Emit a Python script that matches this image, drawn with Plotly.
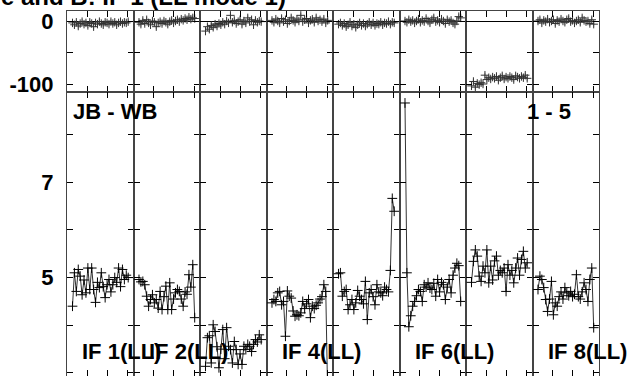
import plotly.graph_objects as go
from plotly.subplots import make_subplots

# ---------------- data ----------------
channels = list(range(1, 31))

if_labels = ["IF 1(LL)", "IF 2(LL)", "IF 4(LL)", "IF 6(LL)", "IF 8(LL)"]
if_label_cols = [1, 2, 4, 6, 8]

amp_if1 = [4.40, 5.10, 4.71, 5.17, 5.03, 4.64, 4.95, 4.68, 5.20, 4.75, 5.20, 4.75, 4.48, 4.90, 4.79,
           5.10, 4.81, 4.58, 4.85, 4.96, 4.70, 4.85, 5.00, 4.90, 5.20, 4.81, 5.17, 4.96, 5.05, 5.00]
amp_if2 = [4.96, 4.91, 4.92, 4.85, 4.61, 4.40, 4.54, 4.64, 4.47, 4.54, 4.36, 4.71, 4.33, 4.60, 4.82,
           4.33, 4.89, 4.33, 4.55, 4.68, 4.75, 4.71, 4.55, 4.40, 4.70, 4.65, 5.06, 4.80, 5.27, 4.16]
amp_if3 = [3.14, 3.74, 3.78, 3.21, 4.01, 3.87, 3.55, 3.11, 3.50, 3.91, 3.30, 3.95, 3.56, 3.49, 3.21,
           3.66, 3.49, 3.18, 3.40, 3.18, 3.56, 3.49, 3.60, 3.56, 3.45, 3.60, 3.70, 3.65, 3.80, 3.70]
amp_if4 = [4.47, 4.54, 4.50, 4.68, 4.71, 4.43, 4.50, 3.77, 4.72, 4.61, 4.57, 4.30, 4.19, 4.22, 4.20,
           4.26, 4.50, 4.35, 4.45, 4.54, 4.16, 4.40, 4.35, 4.42, 4.47, 4.55, 4.60, 4.85, 4.71, 2.50]
amp_if5 = [5.08, 5.10, 4.61, 4.71, 4.75, 4.33, 4.43, 4.54, 4.33, 4.47, 4.73, 4.61, 4.54, 4.45, 4.92,
           4.12, 4.68, 4.75, 4.60, 4.43, 4.85, 4.70, 4.68, 4.62, 4.80, 4.75, 4.70, 5.15, 6.66, 6.39]
amp_if6 = [8.66, 5.10, 3.97, 4.20, 4.40, 4.50, 4.62, 4.75, 4.71, 4.50, 4.85, 4.80, 4.89, 4.78, 4.75,
           4.88, 4.61, 4.96, 4.70, 4.90, 4.85, 4.54, 4.80, 4.96, 4.68, 5.05, 5.20, 5.30, 5.25, 4.50]
amp_if7 = [4.90, 5.34, 5.58, 5.45, 5.03, 4.92, 5.24, 5.10, 5.58, 4.89, 5.24, 4.95, 5.35, 5.45, 5.05,
           5.15, 5.10, 5.20, 4.71, 5.27, 5.05, 5.15, 4.89, 5.20, 5.41, 5.05, 5.38, 5.55, 5.20, 5.31]
amp_if8 = [4.75, 5.03, 4.96, 4.79, 4.54, 4.29, 4.55, 4.92, 4.22, 4.47, 4.40, 4.60, 4.70, 4.55, 4.79,
           4.68, 4.62, 4.71, 4.60, 4.65, 5.06, 4.60, 4.55, 4.70, 4.89, 4.75, 4.50, 4.96, 5.20, 3.95]

ph_if1 = [-3, -6, -2, -8, -4, -1, -5, -3, -7, -2, -4, -9, -3, -5, -1,
          -4, -6, -2, -3, -5, -1, -4, -2, -6, -3, -1, -4, -2, -3, -1]
ph_if2 = [-2, -5, 1, -4, 2, -3, -6, 0, -2, -9, -3, -1, -4, 0, -2,
          -5, -1, 1, -3, 0, 2, -1, 3, 1, 4, 2, 6, 3, 5, 4]
ph_if3 = [-16, -9, -13, -7, -10, -5, -8, -4, -6, -2, -5, 0, -3, 9, -2,
          1, -4, -1, 2, -5, 0, -3, 5, -1, 2, -6, 1, -2, 0, -1]
ph_if4 = [1, -2, 3, 0, -3, 4, -1, 2, -4, 0, 5, 1, -2, 3, 0,
          9, -1, 2, 4, -3, 1, 3, -2, 5, 0, 2, -1, 3, -3, 1]
ph_if5 = [-5, -3, -7, -4, -9, -6, -2, -8, -5, -10, -6, -3, -7, -4, -8,
          -5, -2, -6, -3, -7, -4, -5, -2, -6, -3, -4, -1, -5, -2, -3]
ph_if6 = [0, -2, 2, -1, 1, -3, 0, 3, -2, 1, -1, 4, 0, -3, 2,
          5, -1, 1, -2, 3, 0, -4, 2, -1, 1, -3, -5, 0, 7, 5]
ph_if7 = [-103, -96, -105, -99, -101, -98, -100, -86, -93, -90, -92, -89, -91, -88, -94,
          -90, -87, -92, -89, -91, -88, -90, -93, -87, -89, -91, -88, -90, -86, -91]
ph_if8 = [0, 2, -3, 1, -1, 3, -2, 0, 2, -4, 1, -1, 3, 0, -2,
          2, 4, -1, 1, -3, 0, 2, -2, 5, 1, -1, 0, -4, 2, -5]

amps = [amp_if1, amp_if2, amp_if3, amp_if4, amp_if5, amp_if6, amp_if7, amp_if8]
phases = [ph_if1, ph_if2, ph_if3, ph_if4, ph_if5, ph_if6, ph_if7, ph_if8]

phase_ticks = [-100, -50, 0]
phase_ticktext = ["-100", "", "0"]
amp_ticks = [3, 4, 5, 6, 7, 8]
amp_ticktext = ["3", "", "5", "", "7", ""]
chan_ticks = [8.55, 19.07, 29.74]

title_text = "e and B: IF 1 (LL mode 1)"
baseline_text = "JB - WB"
stokes_text = "1 - 5"

# ---------------- figure ----------------
W, H = 634, 376
ML, MR, MT, MB = 67, 35, 11, 0
plot_h = H - MT - MB
plot_w = W - ML - MR

fig = make_subplots(rows=2, cols=8, horizontal_spacing=0, vertical_spacing=0,
                    row_heights=[81 / plot_h, 1 - 81 / plot_h])

for i in range(8):
    fig.add_trace(go.Scatter(
        x=channels, y=phases[i], mode="markers",
        marker=dict(symbol="cross-thin", size=6, line=dict(width=1, color="#333")),
        error_y=dict(type="constant", value=4, color="#999", thickness=1, width=0),
        showlegend=False, hoverinfo="skip"), row=1, col=i + 1)
    fig.add_trace(go.Scatter(
        x=channels, y=amps[i], mode="lines+markers",
        line=dict(color="#333", width=1),
        marker=dict(symbol="cross-thin", size=7, line=dict(width=1, color="#000")),
        showlegend=False, hoverinfo="skip"), row=2, col=i + 1)

axis_style = dict(showgrid=False, showline=True, linecolor="#444", linewidth=1,
                  mirror="allticks", ticks="inside", ticklen=6, tickwidth=1, tickcolor="#000")

for i in range(8):
    for r in (1, 2):
        fig.update_xaxes(range=[-1.86, 32.76], zeroline=False, tickvals=chan_ticks,
                         showticklabels=False, **axis_style, row=r, col=i + 1)
    fig.update_yaxes(range=[-112.7, 15.9], tickvals=phase_ticks, ticktext=phase_ticktext,
                     showticklabels=(i == 0), zeroline=True, zerolinecolor="#000",
                     zerolinewidth=1, ticklabelstandoff=8, **axis_style, row=1, col=i + 1)
    fig.update_yaxes(range=[2.937, 8.89], tickvals=amp_ticks, ticktext=amp_ticktext,
                     showticklabels=(i == 0), zeroline=False, ticklabelstandoff=8,
                     **axis_style, row=2, col=i + 1)

fig.update_yaxes(tickfont=dict(family="Liberation Sans, Arial", size=22, color="#000", weight="bold"))

big = dict(family="Liberation Sans, Arial", size=22, color="#000", weight="bold")

def px_x(px):
    return (px - ML) / plot_w

def px_y(py):
    return 1 - (py - MT) / plot_h

annotations = [
    dict(text=title_text, x=px_x(-1), y=px_y(-4), xanchor="left", yanchor="middle",
         font=dict(family="Liberation Sans, Arial", size=24, color="#000", weight="bold")),
    dict(text=baseline_text, x=px_x(71), y=px_y(111), xanchor="left", yanchor="middle", font=big),
    dict(text=stokes_text, x=px_x(548.5), y=px_y(111), xanchor="center", yanchor="middle", font=big),
]
panel_w = plot_w / 8
for lab, col in zip(if_labels, if_label_cols):
    annotations.append(dict(text=lab, x=px_x(ML + (col - 1) * panel_w + 13), y=px_y(351),
                            xanchor="left", yanchor="middle", font=big))
for a in annotations:
    a.update(xref="paper", yref="paper", showarrow=False)

fig.update_layout(
    width=W, height=H,
    margin=dict(l=ML, r=MR, t=MT, b=MB, autoexpand=False),
    paper_bgcolor="white", plot_bgcolor="white",
    font=dict(family="Liberation Sans, Arial", size=22, color="#000"),
    annotations=annotations,
    showlegend=False,
)

fig.write_html("out.html", config={"displayModeBar": False},
               post_script="document.body.style.margin='0';document.body.style.padding='0';")
